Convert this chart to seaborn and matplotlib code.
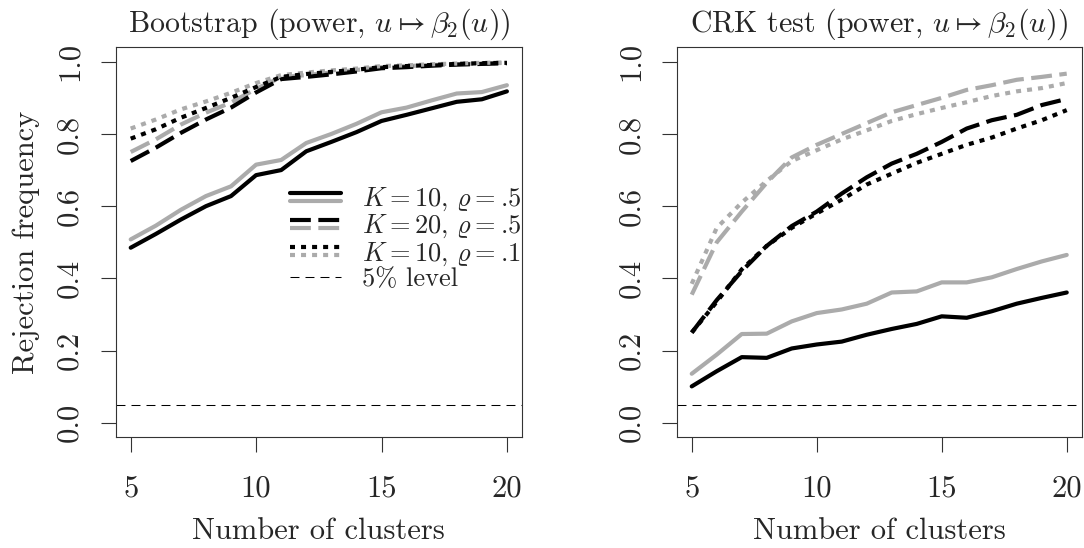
import numpy as np
import pandas as pd
import seaborn as sns
import matplotlib
matplotlib.use("Agg")
import matplotlib.pyplot as plt
from matplotlib.lines import Line2D
from matplotlib.legend_handler import HandlerBase

# ---------------- data ----------------
clusters = [5, 6, 7, 8, 9, 10, 11, 12, 13, 14, 15, 16, 17, 18, 19, 20]

# Bootstrap panel
boot_k10_r5_black = [0.485, 0.523, 0.563, 0.600, 0.628, 0.686, 0.700, 0.752, 0.778, 0.805, 0.836, 0.853, 0.871, 0.889, 0.896, 0.918]
boot_k10_r5_gray = [0.508, 0.546, 0.590, 0.628, 0.655, 0.715, 0.728, 0.775, 0.800, 0.828, 0.860, 0.873, 0.893, 0.912, 0.916, 0.935]
boot_k20_r5_black = [0.725, 0.762, 0.803, 0.840, 0.873, 0.915, 0.952, 0.958, 0.965, 0.973, 0.982, 0.985, 0.989, 0.992, 0.994, 0.996]
boot_k20_r5_gray = [0.750, 0.785, 0.826, 0.859, 0.887, 0.925, 0.957, 0.963, 0.970, 0.977, 0.985, 0.988, 0.991, 0.993, 0.995, 0.997]
boot_k10_r1_black = [0.787, 0.813, 0.845, 0.872, 0.900, 0.930, 0.958, 0.966, 0.972, 0.978, 0.985, 0.988, 0.991, 0.994, 0.996, 0.997]
boot_k10_r1_gray = [0.815, 0.840, 0.868, 0.890, 0.914, 0.941, 0.963, 0.970, 0.976, 0.981, 0.988, 0.990, 0.993, 0.995, 0.997, 0.998]

# CRK panel
crk_k10_r5_black = [0.101, 0.143, 0.182, 0.180, 0.206, 0.217, 0.225, 0.244, 0.260, 0.274, 0.295, 0.291, 0.309, 0.330, 0.346, 0.361]
crk_k10_r5_gray = [0.136, 0.189, 0.246, 0.247, 0.281, 0.304, 0.314, 0.330, 0.361, 0.364, 0.389, 0.389, 0.403, 0.426, 0.447, 0.465]
crk_k20_r5_black = [0.250, 0.340, 0.420, 0.490, 0.545, 0.585, 0.635, 0.680, 0.718, 0.745, 0.778, 0.815, 0.838, 0.853, 0.880, 0.897]
crk_k20_r5_gray = [0.355, 0.500, 0.585, 0.665, 0.735, 0.770, 0.800, 0.830, 0.860, 0.880, 0.900, 0.922, 0.935, 0.950, 0.958, 0.967]
crk_k10_r1_black = [0.250, 0.335, 0.425, 0.490, 0.540, 0.580, 0.618, 0.660, 0.690, 0.720, 0.745, 0.770, 0.790, 0.815, 0.838, 0.866]
crk_k10_r1_gray = [0.385, 0.540, 0.610, 0.670, 0.725, 0.755, 0.785, 0.810, 0.836, 0.855, 0.872, 0.888, 0.905, 0.918, 0.927, 0.941]

level = 0.05

yticks = [0.0, 0.2, 0.4, 0.6, 0.8, 1.0]
ytick_labels = ["0.0", "0.2", "0.4", "0.6", "0.8", "1.0"]
xticks = [5, 10, 15, 20]
xtick_labels = ["5", "10", "15", "20"]

titles = [r"Bootstrap (power, $u \mapsto \beta_2(u)$)", r"CRK test (power, $u \mapsto \beta_2(u)$)"]
xlabel = "Number of clusters"
ylabel = "Rejection frequency"
legend_labels = [r"$K=10$, $\varrho=$.5", r"$K=20$, $\varrho=$.5", r"$K=10$, $\varrho=$.1", r"5% level"]

# ---------------- style ----------------
sns.set_style("ticks")
plt.rcParams["font.family"] = ["cmr10", "DejaVu Serif"]
plt.rcParams["mathtext.fontset"] = "cm"
plt.rcParams["axes.unicode_minus"] = False
plt.rcParams["axes.formatter.use_mathtext"] = True

BLACK = "#000000"
GRAY = "#ababab"
LW = 3.0
SOLID = "-"
DASHED = (0, (5.0, 1.8))
DOTTED = (0, (1.2, 1.45))
HLINE = (0, (8.6, 5.8))

FS = 22
TFS = 21.5
LFS = 19

fig = plt.figure(figsize=(10.84, 5.48), dpi=100)
ax_left = fig.add_axes([0.1067, 0.2020, 0.3748, 0.7117])
ax_right = fig.add_axes([0.6243, 0.2020, 0.3736, 0.7117])

panels = [
    (ax_left, [(boot_k10_r5_gray, GRAY, SOLID), (boot_k10_r5_black, BLACK, SOLID),
               (boot_k20_r5_gray, GRAY, DASHED), (boot_k20_r5_black, BLACK, DASHED),
               (boot_k10_r1_gray, GRAY, DOTTED), (boot_k10_r1_black, BLACK, DOTTED)]),
    (ax_right, [(crk_k10_r5_gray, GRAY, SOLID), (crk_k10_r5_black, BLACK, SOLID),
                (crk_k20_r5_gray, GRAY, DASHED), (crk_k20_r5_black, BLACK, DASHED),
                (crk_k10_r1_gray, GRAY, DOTTED), (crk_k10_r1_black, BLACK, DOTTED)]),
]

for i, (ax, series) in enumerate(panels):
    for vals, col, ls in series:
        df = pd.DataFrame({"clusters": clusters, "rate": vals})
        sns.lineplot(data=df, x="clusters", y="rate", ax=ax, color=col, linewidth=LW,
                     linestyle=ls, legend=False)
    ax.axhline(level, color="black", linewidth=0.75, linestyle=HLINE)
    ax.set_xlim(4.4, 20.6)
    ax.set_ylim(-0.04, 1.04)
    ax.set_xticks(xticks)
    ax.set_xticklabels(xtick_labels, fontsize=FS)
    ax.set_yticks(yticks)
    ax.set_yticklabels(ytick_labels, fontsize=FS, rotation=90, va="center")
    ax.tick_params(axis="both", direction="out", length=11, width=0.8, color="#333333")
    ax.tick_params(axis="x", pad=16)
    ax.tick_params(axis="y", pad=12)
    for sp in ax.spines.values():
        sp.set_visible(True)
        sp.set_linewidth(0.8)
        sp.set_color("#333333")
    ax.set_title(titles[i], fontsize=TFS, pad=11)
    ax.set_xlabel(xlabel, fontsize=FS, labelpad=11)
    ax.set_ylabel(ylabel if i == 0 else "", fontsize=FS, labelpad=12)


# ---------------- legend with paired (black over gray) handles ----------------
class PairedLine:
    def __init__(self, ls):
        self.ls = ls


class PairedLineHandler(HandlerBase):
    def create_artists(self, legend, orig_handle, xdescent, ydescent, width, height, fontsize, trans):
        yc = height / 2.0 - ydescent
        d = 2.9
        x0, x1 = -xdescent, -xdescent + width
        top = Line2D([x0, x1], [yc + d, yc + d], color=BLACK, linewidth=LW, linestyle=orig_handle.ls)
        bot = Line2D([x0, x1], [yc - d, yc - d], color=GRAY, linewidth=LW, linestyle=orig_handle.ls)
        top.set_transform(trans)
        bot.set_transform(trans)
        return [bot, top]


handles = [PairedLine(SOLID), PairedLine(DASHED), PairedLine(DOTTED),
           Line2D([0], [0], color="black", linewidth=0.75, linestyle=HLINE)]
ax_left.legend(handles, legend_labels, handler_map={PairedLine: PairedLineHandler()},
               loc="upper left", bbox_to_anchor=(0.43, 0.645), frameon=False,
               fontsize=LFS, handlelength=1.9, handletextpad=0.8, labelspacing=0.0,
               borderpad=0, borderaxespad=0)

fig.savefig("out.png", dpi=100)
